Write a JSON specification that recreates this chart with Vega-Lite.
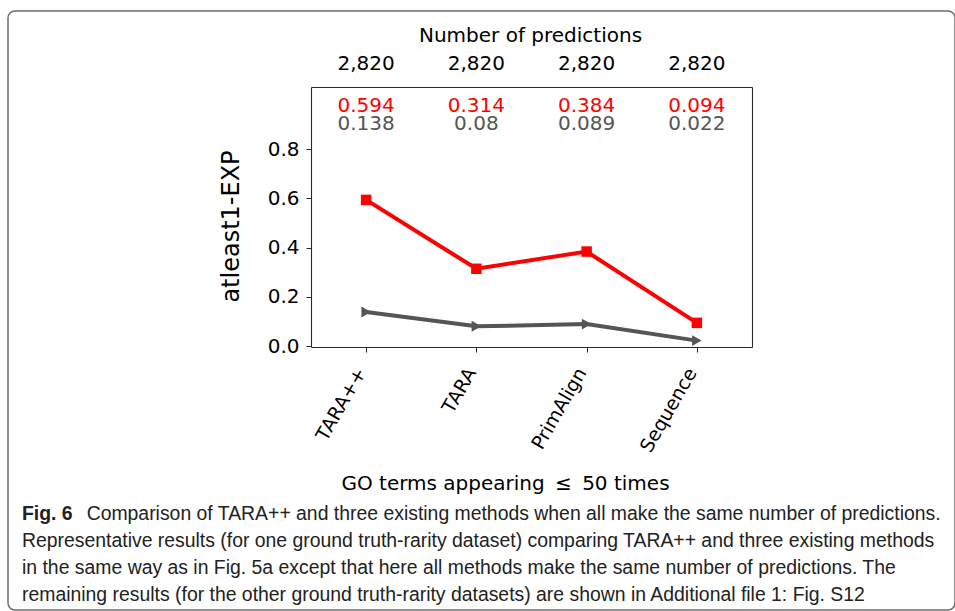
{
  "$schema": "https://vega.github.io/schema/vega-lite/v6.json",
  "width": 947,
  "height": 599,
  "autosize": {"type": "none"},
  "padding": {"left": 8, "top": 11, "right": 0, "bottom": 1},
  "background": "white",
  "view": {"stroke": "#6e6e6e", "strokeWidth": 1.5, "cornerRadius": 7, "fill": "white"},
  "config": {
    "font": "DejaVu Sans",
    "axis": {"labelFont": "DejaVu Sans", "titleFont": "DejaVu Sans", "labelColor": "black", "titleColor": "black", "grid": false, "domainColor": "#2a2a2a", "domainWidth": 1.1, "tickColor": "#2a2a2a", "titleFontWeight": "normal"},
    "text": {"font": "DejaVu Sans"}
  },
  "datasets": {
    "scores": [
      {"method": "TARA++", "series": "method", "value": 0.594},
      {"method": "TARA", "series": "method", "value": 0.314},
      {"method": "PrimAlign", "series": "method", "value": 0.384},
      {"method": "Sequence", "series": "method", "value": 0.094},
      {"method": "TARA++", "series": "random", "value": 0.138},
      {"method": "TARA", "series": "random", "value": 0.08},
      {"method": "PrimAlign", "series": "random", "value": 0.089},
      {"method": "Sequence", "series": "random", "value": 0.022}
    ],
    "npred": [
      {"method": "TARA++", "predictions": 2820},
      {"method": "TARA", "predictions": 2820},
      {"method": "PrimAlign", "predictions": 2820},
      {"method": "Sequence", "predictions": 2820}
    ]
  },
  "title": {
    "text": "Fig. 6",
    "subtitle": [
      "\u200b\u00a0\u00a0\u00a0\u00a0\u00a0\u00a0\u00a0\u00a0\u00a0\u00a0\u00a0\u00a0Comparison of TARA++ and three existing methods when all make the same number of predictions.",
      "Representative results (for one ground truth-rarity dataset) comparing TARA++ and three existing methods",
      "in the same way as in Fig. 5a except that here all methods make the same number of predictions. The",
      "remaining results (for the other ground truth-rarity datasets) are shown in Additional file 1: Fig. S12"
    ],
    "orient": "bottom",
    "anchor": "start",
    "frame": "group",
    "offset": -90,
    "dx": 14,
    "baseline": "alphabetic",
    "font": "Liberation Sans",
    "fontSize": 19.4,
    "fontWeight": "bold",
    "color": "#222222",
    "subtitleFont": "Liberation Sans",
    "subtitleFontSize": 19.4,
    "subtitleFontWeight": "normal",
    "subtitleColor": "#222222",
    "subtitleLineHeight": 27,
    "subtitlePadding": -19.4
  },
  "resolve": {"axis": {"x": "independent", "y": "independent"}},
  "layer": [
    {
      "data": {"name": "scores"},
      "mark": {"type": "line", "strokeWidth": 4},
      "encoding": {
        "x": {"field": "method", "type": "nominal", "sort": null,
          "scale": {"type": "point", "domain": ["TARA++", "TARA", "PrimAlign", "Sequence"], "range": [303, 744], "padding": 0.5},
          "axis": {"orient": "bottom", "offset": -263, "tickSize": 5, "labelAngle": -60, "labelAlign": "right", "labelBaseline": "alphabetic", "labelPadding": 20, "labelFontSize": 19, "labelFont": "DejaVu Sans",
            "title": "GO terms appearing \u2009\u2264\u2009 50 times", "titleFontSize": 20, "titleX": 497, "titleY": 142, "titleAlign": "center", "titleBaseline": "alphabetic", "titleAnchor": null}},
        "y": {"field": "value", "type": "quantitative",
          "scale": {"domain": [-0.004, 1.053], "range": [336, 76], "nice": false, "zero": false},
          "axis": {"orient": "left", "offset": -303, "values": [0, 0.2, 0.4, 0.6, 0.8], "format": ".1f", "tickSize": 5, "labelPadding": 7, "labelFontSize": 20,
            "title": "atleast1-EXP", "titleFontSize": 24, "titleX": -73, "titleY": 215, "titleAlign": "center", "titleBaseline": "alphabetic", "titleAngle": -90}},
        "color": {"field": "series", "type": "nominal", "scale": {"domain": ["method", "random"], "range": ["#ff0000", "#555555"]}, "legend": null}
      }
    },
    {
      "data": {"name": "scores"},
      "mark": {"type": "point", "filled": true, "opacity": 1},
      "encoding": {
        "x": {"field": "method", "type": "nominal", "sort": null, "axis": null},
        "y": {"field": "value", "type": "quantitative", "axis": null},
        "color": {"field": "series", "type": "nominal", "legend": null},
        "shape": {"field": "series", "type": "nominal", "scale": {"domain": ["method", "random"], "range": ["square", "triangle-right"]}, "legend": null},
        "size": {"field": "series", "type": "nominal", "scale": {"domain": ["method", "random"], "range": [110, 120]}, "legend": null}
      }
    },
    {
      "data": {"name": "scores"},
      "transform": [{"filter": "datum.series === 'method'"}],
      "mark": {"type": "text", "fontSize": 20, "baseline": "alphabetic", "align": "center"},
      "encoding": {
        "x": {"field": "method", "type": "nominal", "sort": null,
          "axis": {"orient": "top", "offset": -76, "ticks": false, "labels": false,
            "title": "Number of predictions", "titleFontSize": 20, "titleX": 522, "titleY": -46, "titleAlign": "center", "titleBaseline": "alphabetic", "titleAnchor": null}},
        "y": {"datum": 0.95, "type": "quantitative",
          "axis": {"orient": "right", "offset": -203, "ticks": false, "labels": false, "title": null}},
        "text": {"field": "value", "type": "quantitative", "format": ".3~g"},
        "color": {"value": "#ff0000"}
      }
    },
    {
      "data": {"name": "scores"},
      "transform": [{"filter": "datum.series === 'random'"}],
      "mark": {"type": "text", "fontSize": 20, "baseline": "alphabetic", "align": "center"},
      "encoding": {
        "x": {"field": "method", "type": "nominal", "sort": null, "axis": null},
        "y": {"datum": 0.88, "type": "quantitative", "axis": null},
        "text": {"field": "value", "type": "quantitative", "format": ".3~g"},
        "color": {"value": "#555555"}
      }
    },
    {
      "data": {"name": "npred"},
      "mark": {"type": "text", "fontSize": 20, "baseline": "alphabetic", "align": "center", "color": "black"},
      "encoding": {
        "x": {"field": "method", "type": "nominal", "sort": null, "axis": null},
        "y": {"datum": 1.122, "type": "quantitative", "axis": null},
        "text": {"field": "predictions", "type": "quantitative", "format": ","}
      }
    }
  ]
}
